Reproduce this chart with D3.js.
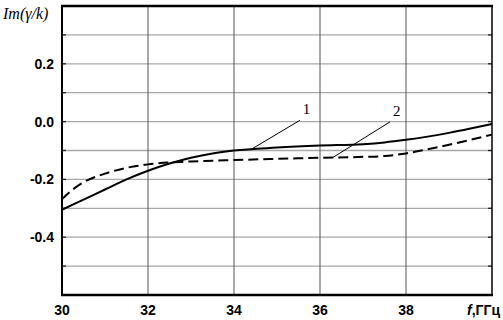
<!DOCTYPE html>
<html>
<head>
<meta charset="utf-8">
<script src="https://cdn.jsdelivr.net/npm/d3@7"></script>
<style>
  body { margin: 0; background: #fff; }
  svg { display: block; }
</style>
</head>
<body>
<svg id="chart"></svg>
<script>
// frequency, GHz
const FREQ = [30, 30.5, 31, 31.5, 32, 32.5, 33, 33.5, 34, 35, 36, 37, 37.5, 38, 38.5, 39, 39.5, 40];
// curve 1 (solid)
const CURVE1 = [-0.305, -0.27, -0.235, -0.2, -0.17, -0.145, -0.125, -0.11, -0.1, -0.09, -0.083, -0.078, -0.072, -0.063, -0.052, -0.039, -0.024, -0.008];
// curve 2 (dashed)
const FREQ2 = [30, 30.25, 30.5, 31, 31.5, 32, 33, 34, 35, 36, 37, 37.5, 38, 38.5, 39, 39.5, 40];
const CURVE2 = [-0.268, -0.235, -0.21, -0.18, -0.16, -0.148, -0.138, -0.133, -0.129, -0.125, -0.122, -0.119, -0.11, -0.096, -0.08, -0.063, -0.045];

const X_TICKS = [30, 32, 34, 36, 38];
const Y_TICKS = [0.2, 0.0, -0.2, -0.4];
const Y_GRID = [0.3, 0.2, 0.1, 0.0, -0.1, -0.2, -0.3, -0.4, -0.5];

// curve labels: name, anchor freq on the curve, label position
const LABELS = [
  {name: "1", f: 34.4, fl: 35.6, vl: 0.025},
  {name: "2", f: 36.3, fl: 37.7, vl: 0.02}
];

const W = 503, H = 320;
const M = {left: 62, right: 11, top: 6, bottom: 25};

const svg = d3.select('#chart').attr('width', W).attr('height', H);

const x = d3.scaleLinear().domain([30, 40]).range([M.left, W - M.right]);
const y = d3.scaleLinear().domain([-0.6, 0.4]).range([H - M.bottom, M.top]);

// horizontal grid
svg.append('g').selectAll('line')
  .data(Y_GRID).enter().append('line')
  .attr('x1', x(30)).attr('x2', x(40))
  .attr('y1', d => y(d)).attr('y2', d => y(d))
  .attr('stroke', '#a8a8a8').attr('stroke-width', 1.3);

// vertical grid
svg.append('g').selectAll('line')
  .data(X_TICKS.slice(1)).enter().append('line')
  .attr('x1', d => x(d)).attr('x2', d => x(d))
  .attr('y1', y(0.4)).attr('y2', y(-0.6))
  .attr('stroke', '#555').attr('stroke-width', 1);

// inward ticks left / right
const tk = svg.append('g').attr('stroke', '#222').attr('stroke-width', 1.3);
Y_GRID.forEach(v => {
  tk.append('line').attr('x1', x(30)).attr('x2', x(30) + 4).attr('y1', y(v)).attr('y2', y(v));
  tk.append('line').attr('x1', x(40)).attr('x2', x(40) - 4).attr('y1', y(v)).attr('y2', y(v));
});

// frame
svg.append('line').attr('x1', x(30) - 1).attr('x2', x(40) + 1).attr('y1', y(0.4)).attr('y2', y(0.4))
  .attr('stroke', '#000').attr('stroke-width', 2.5);
svg.append('line').attr('x1', x(30) - 1).attr('x2', x(40) + 1).attr('y1', y(-0.6)).attr('y2', y(-0.6))
  .attr('stroke', '#000').attr('stroke-width', 2.5);
svg.append('line').attr('x1', x(30)).attr('x2', x(30)).attr('y1', y(0.4)).attr('y2', y(-0.6))
  .attr('stroke', '#000').attr('stroke-width', 2);
svg.append('line').attr('x1', x(40)).attr('x2', x(40)).attr('y1', y(0.4)).attr('y2', y(-0.6))
  .attr('stroke', '#000').attr('stroke-width', 1.5);

// curves
const line = d3.line().curve(d3.curveMonotoneX).x(d => x(d[0])).y(d => y(d[1]));
svg.append('path')
  .datum(d3.zip(FREQ, CURVE1))
  .attr('d', line)
  .attr('fill', 'none').attr('stroke', '#000').attr('stroke-width', 2);
svg.append('path')
  .datum(d3.zip(FREQ2, CURVE2))
  .attr('d', line)
  .attr('fill', 'none').attr('stroke', '#000').attr('stroke-width', 2)
  .attr('stroke-dasharray', '10,5');

// curve labels with leaders
const interp = (fs, vs, f) => {
  for (let i = 0; i < fs.length - 1; i++) {
    if (f >= fs[i] && f <= fs[i + 1]) {
      const t = (f - fs[i]) / (fs[i + 1] - fs[i]);
      return vs[i] + t * (vs[i + 1] - vs[i]);
    }
  }
  return vs[vs.length - 1];
};
LABELS.forEach((l, i) => {
  const v = i === 0 ? interp(FREQ, CURVE1, l.f) : interp(FREQ2, CURVE2, l.f);
  svg.append('line')
    .attr('x1', x(l.f)).attr('y1', y(v))
    .attr('x2', x(l.fl) - 3).attr('y2', y(l.vl) + 6)
    .attr('stroke', '#000').attr('stroke-width', 1);
  svg.append('text')
    .attr('x', x(l.fl)).attr('y', y(l.vl))
    .attr('font-family', 'Liberation Serif, Times New Roman, serif')
    .attr('font-size', 15)
    .text(l.name);
});

// y labels
svg.append('g').selectAll('text')
  .data(Y_TICKS).enter().append('text')
  .attr('x', 54).attr('y', d => y(d) + 5)
  .attr('text-anchor', 'end')
  .attr('font-family', 'Liberation Sans, Arial, sans-serif')
  .attr('font-weight', 'bold').attr('font-size', 14)
  .text(d => d.toFixed(1));

// x labels
svg.append('g').selectAll('text')
  .data(X_TICKS).enter().append('text')
  .attr('x', d => x(d)).attr('y', 315)
  .attr('text-anchor', 'middle')
  .attr('font-family', 'Liberation Sans, Arial, sans-serif')
  .attr('font-weight', 'bold').attr('font-size', 14)
  .text(d => d);

// axis titles
const xt = svg.append('text')
  .attr('x', 500).attr('y', 315)
  .attr('text-anchor', 'end')
  .attr('font-family', 'Liberation Sans, Arial, sans-serif')
  .attr('font-weight', 'bold').attr('font-size', 14);
xt.append('tspan').attr('font-style', 'italic').text('f');
xt.append('tspan').text(',ГГц');

svg.append('text')
  .attr('x', 3).attr('y', 19)
  .attr('font-family', 'Liberation Serif, Times New Roman, serif')
  .attr('font-style', 'italic').attr('font-size', 16)
  .text('Im(γ/k)');
</script>
</body>
</html>
